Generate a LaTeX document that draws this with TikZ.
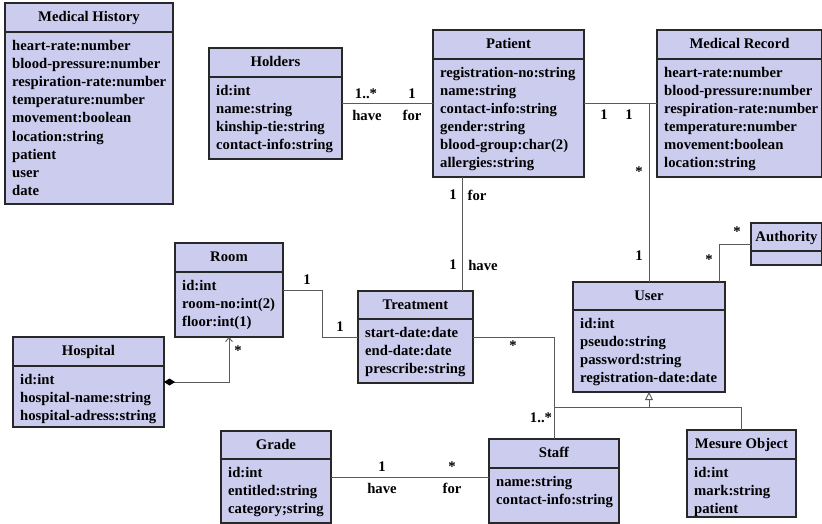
\documentclass[tikz,border=0pt]{standalone}
\usepackage{fontspec}
\setmainfont{Liberation Serif}
\usetikzlibrary{arrows.meta,fit,calc}
\definecolor{classfill}{RGB}{204,204,238}
\definecolor{edgec}{RGB}{40,40,40}
\definecolor{connc}{RGB}{90,90,90}
\tikzset{
 classbox/.style={draw=edgec, line width=1.2pt, fill=classfill, inner sep=0pt, outer sep=0pt},
 ctitle/.style={font=\fontsize{14.7}{18.1}\selectfont\bfseries, inner sep=0pt, anchor=base},
 cattr/.style={font=\fontsize{14.7}{18.1}\selectfont\bfseries, inner sep=0pt, anchor=north west, align=left},
 lbl/.style={font=\fontsize{14.7}{16}\selectfont\bfseries, inner sep=0pt},
 conn/.style={draw=connc, line width=0.9pt},
}
% #1 name, #2 left, #3 top, #4 right, #5 divider, #6 bottom, #7 title, #8 attributes
\newcommand\umlcls[8]{%
 \node[classbox, fit={(#2,#3) (#4,#6)}] (#1) {};
 \draw[edgec, line width=1.2pt] (#1.west |- 0,#5) -- (#1.east |- 0,#5);
 \node[ctitle] (#1-t) at ({(#2+#4)/2},#3+18.3) {#7};
 \node[cattr] (#1-a) at (#2+7,#5+18.3-12.67) {\strut #8};
}
\begin{document}
\begin{tikzpicture}[x=1pt,y=-1pt]
\useasboundingbox (0,0) rectangle (822,524);
\umlcls{medhist}{5}{3}{173}{32}{204}{Medical History}{heart-rate:number\\blood-pressure:number\\respiration-rate:number\\temperature:number\\movement:boolean\\location:string\\patient\\user\\date}
\umlcls{holders}{209}{48}{342}{77}{159}{Holders}{id:int\\name:string\\kinship-tie:string\\contact-info:string}
\umlcls{patient}{433}{30}{584}{59}{177}{Patient}{registration-no:string\\name:string\\contact-info:string\\gender:string\\blood-group:char(2)\\allergies:string}
\umlcls{medrec}{657}{30}{822}{59}{177}{Medical Record}{heart-rate:number\\blood-pressure:number\\respiration-rate:number\\temperature:number\\movement:boolean\\location:string}
\umlcls{room}{175}{243}{283}{272}{337}{Room}{id:int\\room-no:int(2)\\floor:int(1)}
\umlcls{treatment}{358}{291}{473}{319}{383}{Treatment}{start-date:date\\end-date:date\\prescribe:string}
\umlcls{user}{573}{282}{725}{310}{392}{User}{id:int\\pseudo:string\\password:string\\registration-date:date}
\umlcls{authority}{751}{223}{822}{251}{265}{Authority}{}
\umlcls{hospital}{13}{337}{164}{366}{427}{Hospital}{id:int\\hospital-name:string\\hospital-adress:string}
\umlcls{grade}{221}{431}{331}{459}{523}{Grade}{id:int\\entitled:string\\category;string}
\umlcls{staff}{489}{439}{619}{468}{523}{Staff}{name:string\\contact-info:string}
\umlcls{mesure}{687}{430}{796}{459}{517}{Mesure Object}{id:int\\mark:string\\patient}

% connectors
\draw[conn] (holders.east) -- (patient.west);
\draw[conn] (patient.east) -- (medrec.west);
\draw[conn] (user.north) -- (user.north |- patient.east);
\draw[conn] (patient.south -| 462,0) -- (treatment.north -| 462,0);
\draw[conn] (room.east) -- ++(39,0) |- (treatment.west);
\draw[conn, {Diamond[length=11pt,width=7pt,fill=black,color=black]}-{Straight Barb[length=4pt,width=7pt]}] (hospital.east) -| (room.south);
\draw[conn] (treatment.east) -| (staff.north);
\draw[conn] (mesure.north) |- (staff.north |- 0,407);
\draw[conn, -{Triangle[open,length=8pt,width=8pt]}] (user.south |- 0,407) -- (user.south);
\draw[conn] (grade.east) -- (staff.west |- grade.east);
\draw[conn] ([xshift=-6pt]user.north east) |- (authority.west);

% labels
\node[lbl] (l1) at (366,94) {1..*};
\node[lbl] (l2) at (412,94) {1};
\node[lbl] (l3) at (367,115) {have};
\node[lbl] (l4) at (412,115) {for};
\node[lbl] (l5) at (604,115) {1};
\node[lbl] (l6) at (629,115) {1};
\node[lbl] (l7) at (639,172) {*};
\node[lbl] (l8) at (639,256) {1};
\node[lbl] (l9) at (453,195) {1};
\node[lbl] (l10) at (477,195) {for};
\node[lbl] (l11) at (453,265) {1};
\node[lbl] (l12) at (483,265) {have};
\node[lbl] (l13) at (307,280) {1};
\node[lbl] (l14) at (340,327) {1};
\node[lbl] (l15) at (238,351) {*};
\node[lbl] (l16) at (513,346) {*};
\node[lbl] (l17) at (541,418) {1..*};
\node[lbl] (l18) at (737,232) {*};
\node[lbl] (l19) at (709,260) {*};
\node[lbl] (l20) at (382,467) {1};
\node[lbl] (l21) at (452,467) {*};
\node[lbl] (l22) at (382,488) {have};
\node[lbl] (l23) at (452,488) {for};
\end{tikzpicture}
\end{document}
